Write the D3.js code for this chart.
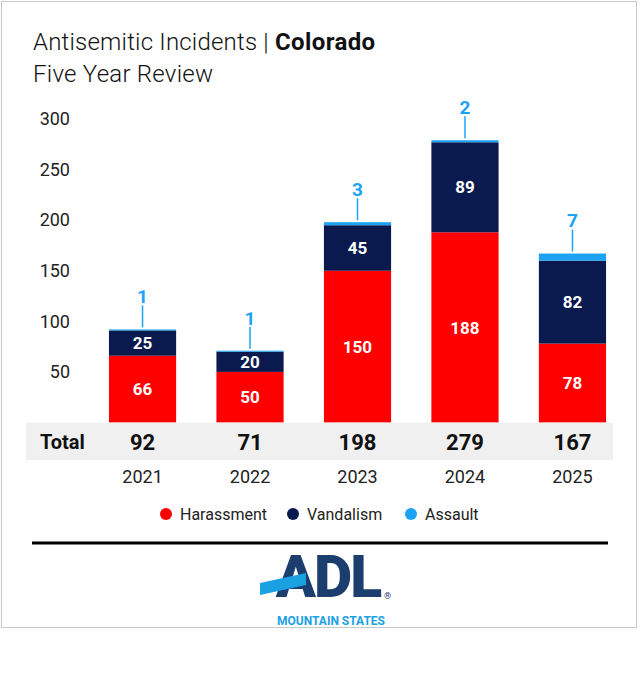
<!DOCTYPE html>
<html>
<head>
<meta charset="utf-8">
<script src="https://cdn.jsdelivr.net/npm/d3@7"></script>
<style>
  body { margin: 0; background: #fff; }
  svg { display: block; font-family: Roboto, "Noto Sans", sans-serif; }
</style>
</head>
<body>
<div id="chart"></div>
<script>
// values
const years = ["2021", "2022", "2023", "2024", "2025"];
const harassment = [66, 50, 150, 188, 78];
const vandalism = [25, 20, 45, 89, 82];
const assault = [1, 1, 3, 2, 7];
const yTicks = [50, 100, 150, 200, 250, 300];
const keys = ["Harassment", "Vandalism", "Assault"];
const colors = ["#ff0000", "#0b1a4e", "#1ca3f4"];

const width = 640;
const height = 679;

// table for d3.stack
const rows = years.map((y, i) => ({
  year: y,
  Harassment: harassment[i],
  Vandalism: vandalism[i],
  Assault: assault[i],
}));
const totals = rows.map((d) => d.Harassment + d.Vandalism + d.Assault);

const svg = d3
  .select("#chart")
  .append("svg")
  .attr("width", width)
  .attr("height", height);

// outer frame
svg
  .append("rect")
  .attr("x", 1.5)
  .attr("y", 1.5)
  .attr("width", 635)
  .attr("height", 626)
  .attr("fill", "#fff")
  .attr("stroke", "#c8c8c8");

// title
const title = svg
  .append("text")
  .attr("x", 33)
  .attr("y", 50)
  .attr("font-size", 24)
  .attr("fill", "#111");
title
  .append("tspan")
  .attr("font-weight", 300)
  .attr("letter-spacing", 0.2)
  .text("Antisemitic Incidents | ");
title
  .append("tspan")
  .attr("font-weight", 700)
  .attr("letter-spacing", 0.4)
  .text("Colorado");

svg
  .append("text")
  .attr("x", 33)
  .attr("y", 82)
  .attr("font-size", 24)
  .attr("font-weight", 300)
  .attr("letter-spacing", 0.25)
  .attr("fill", "#111")
  .text("Five Year Review");

const xScale = d3
  .scaleBand()
  .domain(years)
  .range([88.8, 626.2])
  .paddingInner(0.375)
  .paddingOuter(0.1875);

const yScale = d3.scaleLinear().domain([0, 300]).range([422.5, 119]);

// y axis labels only, no line
const yAxis = svg
  .append("g")
  .attr("transform", "translate(70,0)")
  .call(d3.axisLeft(yScale).tickValues(yTicks).tickSize(0).tickPadding(0));
yAxis.select(".domain").remove();
yAxis
  .selectAll("text")
  .attr("font-size", 18)
  .attr("font-family", "Roboto, sans-serif")
  .attr("fill", "#222");

const series = d3.stack().keys(keys)(rows);

const layers = svg
  .append("g")
  .selectAll("g")
  .data(series)
  .join("g")
  .attr("fill", (d, i) => colors[i]);

layers
  .selectAll("rect")
  .data((d) => d)
  .join("rect")
  .attr("x", (d) => xScale(d.data.year))
  .attr("width", xScale.bandwidth())
  .attr("y", (d) => yScale(d[1]))
  .attr("height", (d) => yScale(d[0]) - yScale(d[1]));

// labels inside harassment and vandalism segments
series.slice(0, 2).forEach((s) => {
  svg
    .append("g")
    .selectAll("text")
    .data(s)
    .join("text")
    .attr("x", (d) => xScale(d.data.year) + xScale.bandwidth() / 2)
    .attr("y", (d) => (yScale(d[0]) + yScale(d[1])) / 2)
    .attr("dy", "0.36em")
    .attr("text-anchor", "middle")
    .attr("font-size", 17)
    .attr("font-weight", 700)
    .attr("fill", "#fff")
    .text((d) => d[1] - d[0]);
});

// assault labels above the bars with a leader line
const assaultLayer = series[2];
svg
  .append("g")
  .selectAll("line")
  .data(assaultLayer)
  .join("line")
  .attr("x1", (d) => xScale(d.data.year) + xScale.bandwidth() / 2)
  .attr("x2", (d) => xScale(d.data.year) + xScale.bandwidth() / 2)
  .attr("y1", (d) => yScale(d[1]) - 2)
  .attr("y2", (d) => yScale(d[1]) - 24)
  .attr("stroke", colors[2])
  .attr("stroke-width", 1.5);

svg
  .append("g")
  .selectAll("text")
  .data(assaultLayer)
  .join("text")
  .attr("x", (d) => xScale(d.data.year) + xScale.bandwidth() / 2)
  .attr("y", (d) => yScale(d[1]) - 33)
  .attr("dy", "0.36em")
  .attr("text-anchor", "middle")
  .attr("font-size", 19)
  .attr("font-weight", 700)
  .attr("fill", colors[2])
  .text((d) => d[1] - d[0]);

// totals band
svg
  .append("rect")
  .attr("x", 26)
  .attr("y", 422.7)
  .attr("width", 587)
  .attr("height", 37.5)
  .attr("fill", "#f0f0f0");

svg
  .append("text")
  .attr("x", 40)
  .attr("y", 449)
  .attr("font-size", 20)
  .attr("font-weight", 700)
  .attr("fill", "#111")
  .text("Total");

svg
  .append("g")
  .selectAll("text")
  .data(totals)
  .join("text")
  .attr("x", (d, i) => xScale(years[i]) + xScale.bandwidth() / 2)
  .attr("y", 450)
  .attr("text-anchor", "middle")
  .attr("font-size", 22)
  .attr("font-weight", 700)
  .attr("fill", "#111")
  .text((d) => d);

// year axis
const xAxis = svg
  .append("g")
  .attr("transform", "translate(0,470)")
  .call(d3.axisBottom(xScale).tickSize(0).tickPadding(0));
xAxis.select(".domain").remove();
xAxis
  .selectAll("text")
  .attr("font-size", 18)
  .attr("font-family", "Roboto, sans-serif")
  .attr("fill", "#222");

// legend
const legendX = [166, 293, 411];
const legend = svg
  .append("g")
  .selectAll("g")
  .data(keys)
  .join("g")
  .attr("transform", (d, i) => `translate(${legendX[i]},514)`);
legend
  .append("circle")
  .attr("r", 6)
  .attr("fill", (d, i) => colors[i]);
legend
  .append("text")
  .attr("x", 14)
  .attr("dy", "0.36em")
  .attr("font-size", 16)
  .attr("fill", "#222")
  .text((d) => d);

// separator
svg
  .append("line")
  .attr("x1", 32)
  .attr("x2", 608)
  .attr("y1", 543)
  .attr("y2", 543)
  .attr("stroke", "#000")
  .attr("stroke-width", 3);

// ADL logo
const logo = svg.append("g");
logo
  .append("text")
  .attr("x", 328)
  .attr("y", 597)
  .attr("text-anchor", "middle")
  .attr("font-size", 59)
  .attr("font-weight", 900)
  .attr("letter-spacing", -2)
  .attr("fill", "#1b3e6f")
  .text("ADL");
logo
  .append("polygon")
  .attr("points", "260,583 306,573 306,585 260,595")
  .attr("fill", "#1ba1e2");
logo
  .append("text")
  .attr("x", 384)
  .attr("y", 599)
  .attr("font-size", 9)
  .attr("fill", "#1b3e6f")
  .text("®");
logo
  .append("text")
  .attr("x", 277)
  .attr("y", 625)
  .attr("font-size", 13)
  .attr("font-weight", 700)
  .attr("textLength", 108)
  .attr("lengthAdjust", "spacingAndGlyphs")
  .attr("fill", "#1ba1e2")
  .text("MOUNTAIN STATES");
</script>
</body>
</html>
